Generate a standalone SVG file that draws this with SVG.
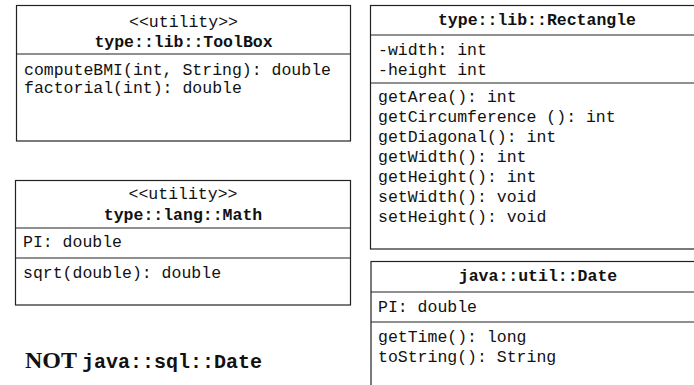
<svg xmlns="http://www.w3.org/2000/svg" width="694" height="385" viewBox="0 0 694 385">
<style>
.box{fill:#fff;stroke:#222;stroke-width:1.2}
.ln{stroke:#222;stroke-width:1.2}
.t{font-family:"Liberation Mono","Courier New",monospace;font-size:16.5px;fill:#111}
.b{font-weight:bold}
.c{text-anchor:middle}
.note{font-family:"Liberation Serif","Times New Roman",serif;font-size:24px;fill:#111}
</style>
<rect width="694" height="385" fill="#fff"/>
<g id="toolbox">
<rect class="box" x="16.5" y="5.5" width="334" height="135.5"/>
<line class="ln" x1="16.5" y1="54" x2="350.5" y2="54"/>
<text class="t c" x="183.5" y="27">&lt;&lt;utility&gt;&gt;</text>
<text class="t c b" x="183.5" y="47">type::lib::ToolBox</text>
<text class="t" x="24" y="75">computeBMI(int, String): double</text>
<text class="t" x="24" y="93">factorial(int): double</text>
</g>
<g id="math">
<rect class="box" x="15.5" y="180.5" width="335" height="124.5"/>
<line class="ln" x1="15.5" y1="228" x2="350.5" y2="228"/>
<line class="ln" x1="15.5" y1="258" x2="350.5" y2="258"/>
<text class="t c" x="183" y="199">&lt;&lt;utility&gt;&gt;</text>
<text class="t c b" x="183" y="220">type::lang::Math</text>
<text class="t" x="23" y="247">PI: double</text>
<text class="t" x="23" y="278">sqrt(double): double</text>
</g>
<g id="rectangle">
<rect class="box" x="370.5" y="5.5" width="340" height="243.5"/>
<line class="ln" x1="370.5" y1="35" x2="710" y2="35"/>
<line class="ln" x1="370.5" y1="83" x2="710" y2="83"/>
<text class="t c b" x="537" y="25">type::lib::Rectangle</text>
<text class="t" x="378" y="55">-width: int</text>
<text class="t" x="378" y="75">-height int</text>
<text class="t" x="378" y="102">getArea(): int</text>
<text class="t" x="378" y="122">getCircumference (): int</text>
<text class="t" x="378" y="142">getDiagonal(): int</text>
<text class="t" x="378" y="162">getWidth(): int</text>
<text class="t" x="378" y="182">getHeight(): int</text>
<text class="t" x="378" y="202">setWidth(): void</text>
<text class="t" x="378" y="222">setHeight(): void</text>
</g>
<g id="date">
<rect class="box" x="371" y="261.5" width="340" height="140"/>
<line class="ln" x1="371" y1="292" x2="710" y2="292"/>
<line class="ln" x1="371" y1="322" x2="710" y2="322"/>
<text class="t c b" x="538" y="281">java::util::Date</text>
<text class="t" x="378" y="312">PI: double</text>
<text class="t" x="378" y="342">getTime(): long</text>
<text class="t" x="378" y="362">toString(): String</text>
</g>
<g id="note">
<text x="25" y="368"><tspan class="note b">NOT</tspan><tspan class="t b" style="font-size:20px" dx="5">java::sql::Date</tspan></text>
</g>
<g id="connectors"></g>
</svg>
